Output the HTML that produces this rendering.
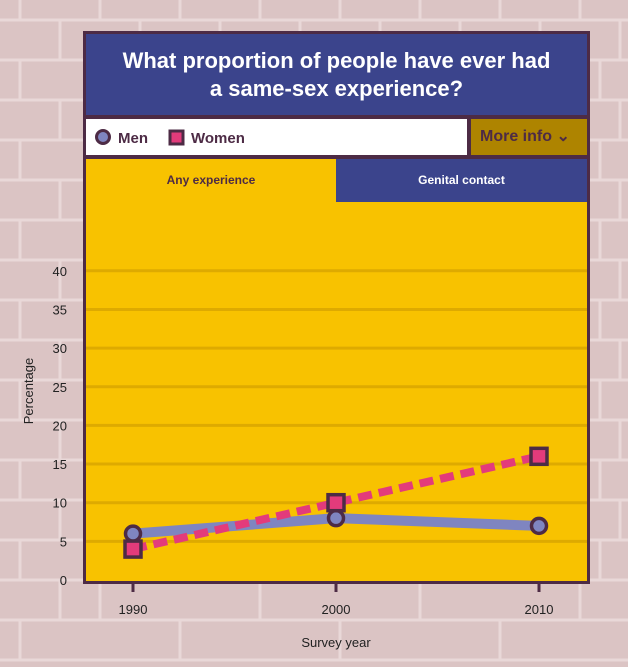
<!DOCTYPE html>
<html><head><meta charset="utf-8"><style>
body{margin:0;width:628px;height:667px;overflow:hidden;font-family:"Liberation Sans",sans-serif;background:#dbc4c4;position:relative}
.bg{position:absolute;left:0;top:0}
.panel{position:absolute;left:83px;top:31px;width:507px;height:553px;background:#4d2b45}
.title{position:absolute;left:3px;top:3px;width:501px;height:81px;background:#3b448c;color:#fff;font-weight:bold;font-size:22px;text-align:center;line-height:28px;padding-top:13px;box-sizing:border-box}
.legend{position:absolute;left:3px;top:88px;width:381px;height:36px;background:#fff;font-weight:bold;font-size:15px;color:#4d2b45}
.more{position:absolute;left:388px;top:88px;width:116px;height:36px;background:#ae8400;color:#4d2b45;font-weight:bold;font-size:16px;line-height:36px;padding-left:9px;box-sizing:border-box}
.tab{position:absolute;top:128px;height:43px;font-weight:bold;font-size:12px;text-align:center;line-height:43px}
.plot{position:absolute;left:3px;top:171px;width:501px;height:379px;background:#f8c200}
</style></head><body>
<svg class="bg" width="628" height="667">
<g stroke="#e9d8d8" stroke-width="3" fill="none">
<path d="M0 20H628M0 60H628M0 100H628M0 140H628M0 180H628M0 220H628M0 260H628M0 300H628M0 340H628M0 380H628M0 420H628M0 460H628M0 500H628M0 540H628M0 580H628M0 620H628M0 660H628"/>
<path d="M20 0V20M100 0V20M180 0V20M260 0V20M340 0V20M420 0V20M500 0V20M580 0V20M60 20V60M140 20V60M220 20V60M300 20V60M380 20V60M460 20V60M540 20V60M620 20V60"/>
<path d="M20 60V100M60 100V140M20 140V180M60 180V220M20 220V260M60 260V300M20 300V340M60 340V380M20 380V420M60 420V460M20 460V500M60 500V540M20 540V580M60 580V620M20 620V660"/>
<path d="M600 60V100M620 100V140M600 140V180M620 180V220M600 220V260M620 260V300M600 300V340M620 340V380M600 380V420M620 420V460M600 460V500M620 500V540M600 540V580"/>
<path d="M100 580V620M180 620V660M260 580V620M340 620V660M420 580V620M500 620V660M580 580V620"/>
</g></svg>
<div class="panel">
<div class="title">What proportion of people have ever had<br>a same-sex experience?</div>
<div class="legend">
<svg width="200" height="36" style="position:absolute;left:0;top:0">
<circle cx="17" cy="18" r="6.5" fill="#7f85c0" stroke="#4d2b45" stroke-width="3"/>
<text x="32" y="24" font-size="15" font-weight="bold" fill="#4d2b45">Men</text>
<rect x="84" y="12" width="13" height="13" fill="#e33b7b" stroke="#4d2b45" stroke-width="3"/>
<text x="105" y="24" font-size="15" font-weight="bold" fill="#4d2b45">Women</text>
</svg></div>
<div class="more">More info <span style="font-size:16px">&#8964;</span></div>
<div class="tab" style="left:3px;width:250px;background:#f8c200;color:#4d2b45">Any experience</div>
<div class="tab" style="left:253px;width:251px;background:#3b448c;color:#fff">Genital contact</div>
<div class="plot"></div>
</div>
<svg id="chart" width="628" height="667" style="position:absolute;left:0;top:0"></svg>
<script>
const years=[1990,2000,2010];
const menValues=[6,8,7];
const womenValues=[4,10,16];
const yTicks=[0,5,10,15,20,25,30,35,40];
const NS="http://www.w3.org/2000/svg";
const svg=document.getElementById('chart');
const x=v=>133+(v-1990)*20.3;
const y=v=>580-v*7.73;
function mk(t,a){const e=document.createElementNS(NS,t);for(const k in a)e.setAttribute(k,a[k]);svg.appendChild(e);return e;}
yTicks.forEach(t=>{
 if(t>0){const g=mk('line',{x1:86,x2:587,y1:y(t),y2:y(t),stroke:'#deaa00','stroke-width':3});
 
 }
 const l=mk('text',{x:67,y:y(t)+5,'text-anchor':'end','font-size':13,fill:'#222','font-family':'Liberation Sans'});
 l.textContent=t;
 
 
});
years.forEach(yr=>{
 const tk=mk('line',{x1:x(yr),x2:x(yr),y1:584,y2:592,stroke:'#4d2b45','stroke-width':3});
 
 
 const l=mk('text',{x:x(yr),y:614,'text-anchor':'middle','font-size':13,fill:'#222','font-family':'Liberation Sans'});
 l.textContent=yr;
 
 
});
const ml=mk('polyline',{points:years.map((yr,i)=>x(yr)+','+y(menValues[i])).join(' '),fill:'none',stroke:'#7f85c0','stroke-width':10});


const wl=mk('polyline',{points:years.map((yr,i)=>x(yr)+','+y(womenValues[i])).join(' '),fill:'none',stroke:'#e33b7b','stroke-width':8,'stroke-dasharray':'14 7'});


years.forEach((yr,i)=>{
 const c=mk('circle',{cx:x(yr),cy:y(menValues[i]),r:7.5,fill:'#7f85c0',stroke:'#4d2b45','stroke-width':3.5});
 
 
 const r=mk('rect',{x:x(yr)-8,y:y(womenValues[i])-8,width:16,height:16,fill:'#e33b7b',stroke:'#4d2b45','stroke-width':3.5});
 
 
});
const xt=mk('text',{x:336,y:647,'text-anchor':'middle','font-size':13,fill:'#222','font-family':'Liberation Sans'});
xt.textContent='Survey year';


const yt=mk('text',{x:0,y:0,'text-anchor':'middle','font-size':13,fill:'#222','font-family':'Liberation Sans',transform:'translate(33,391) rotate(-90)'});
yt.textContent='Percentage';


</script>
</body></html>
